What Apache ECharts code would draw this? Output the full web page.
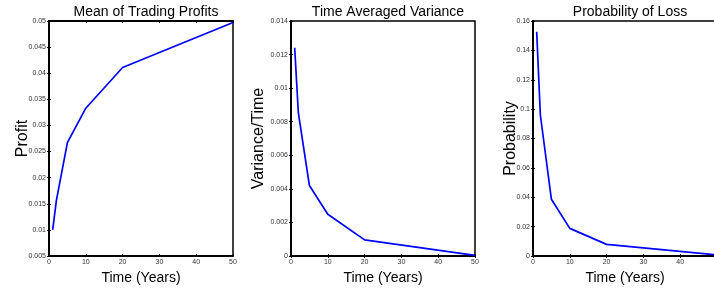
<!DOCTYPE html>
<html>
<head>
<meta charset="utf-8">
<script src="https://cdn.jsdelivr.net/npm/echarts@6/dist/echarts.min.js"></script>
<style>
  html, body { margin: 0; padding: 0; background: #fff; }
  #main { width: 714px; height: 291px; }
</style>
</head>
<body>
<div id="main"></div>
<script>
var years = [1, 2, 5, 10, 20, 50];
var profit = [0.0100, 0.0156, 0.0267, 0.0333, 0.0411, 0.0497];
var variance = [0.01241, 0.00852, 0.00420, 0.00249, 0.00096, 0.00004];
var lossProb = [0.1527, 0.0960, 0.0386, 0.0188, 0.0079, 0.0007];

var titles = ['Mean of Trading Profits', 'Time Averaged Variance', 'Probability of Loss'];
var yNames = ['Profit', 'Variance/Time', 'Probability'];
var yMin = [0.005, 0, 0];
var yMax = [0.05, 0.014, 0.16];
var yStep = [0.005, 0.002, 0.02];
var seriesData = [profit, variance, lossProb];

var lefts = [49, 291, 533];
var nameGaps = [18, 24, 14];
var plotW = 184;
var labelFont = 'Liberation Sans, Arial, sans-serif';

var myChart = echarts.init(document.getElementById('main'));

var grid = [], xAxis = [], yAxis = [], series = [], title = [];
for (var i = 0; i < 3; i++) {
    grid.push({
        left: lefts[i], width: plotW, top: 21, bottom: 35,
        outerBoundsMode: 'none',
        show: true, borderColor: '#000', borderWidth: 1.5, backgroundColor: '#fff'
    });
    title.push({
        text: titles[i], left: lefts[i] + plotW / 2, top: 0, textAlign: 'center',
        textStyle: { fontFamily: labelFont, fontSize: 14, fontWeight: 'normal', color: '#000' }
    });
    xAxis.push({
        gridIndex: i, type: 'value', min: 0, max: 50, interval: 10,
        name: 'Time (Years)', nameLocation: 'middle', nameGap: 15, nameMoveOverlap: false,
        nameTextStyle: { fontFamily: labelFont, fontSize: 14, color: '#000' },
        axisLine: { show: true, lineStyle: { color: '#000', width: 1.8 } },
        axisTick: { show: true, inside: true, length: 2, lineStyle: { color: '#000' } },
        axisLabel: { fontFamily: labelFont, fontSize: 7, color: '#333', margin: 3, showMaxLabel: i < 2 },
        splitLine: { show: false }
    });
    xAxis.push({
        gridIndex: i, type: 'value', min: 0, max: 50, interval: 10, position: 'top',
        axisLine: { show: true, lineStyle: { color: '#000', width: 1.8 } },
        axisTick: { show: true, inside: true, length: 2, lineStyle: { color: '#000' } },
        axisLabel: { show: false }, splitLine: { show: false }
    });
    yAxis.push({
        gridIndex: i, type: 'value', min: yMin[i], max: yMax[i], interval: yStep[i],
        name: yNames[i], nameLocation: 'middle', nameGap: nameGaps[i], nameMoveOverlap: false,
        nameTextStyle: { fontFamily: labelFont, fontSize: 16, color: '#000' },
        axisLine: { show: true, lineStyle: { color: '#000', width: 1.8 } },
        axisTick: { show: true, inside: true, length: 2, lineStyle: { color: '#000' } },
        axisLabel: {
            fontFamily: labelFont, fontSize: 7, color: '#333', margin: 3,
            formatter: function (v) { return String(parseFloat(v.toFixed(4))); }
        },
        splitLine: { show: false }
    });
    yAxis.push({
        gridIndex: i, type: 'value', min: yMin[i], max: yMax[i], interval: yStep[i], position: 'right',
        axisLine: { show: true, lineStyle: { color: '#000', width: 1.8 } },
        axisTick: { show: true, inside: true, length: 2, lineStyle: { color: '#000' } },
        axisLabel: { show: false }, splitLine: { show: false }
    });
    series.push({
        type: 'line', xAxisIndex: i * 2, yAxisIndex: i * 2,
        data: years.map(function (x, k) { return [x, seriesData[i][k]]; }),
        showSymbol: false, symbol: 'none',
        lineStyle: { color: '#0000ff', width: 1.7 }
    });
}

var option = {
    animation: false,
    title: title,
    grid: grid,
    xAxis: xAxis,
    yAxis: yAxis,
    series: series
};
myChart.setOption(option);
</script>
</body>
</html>
